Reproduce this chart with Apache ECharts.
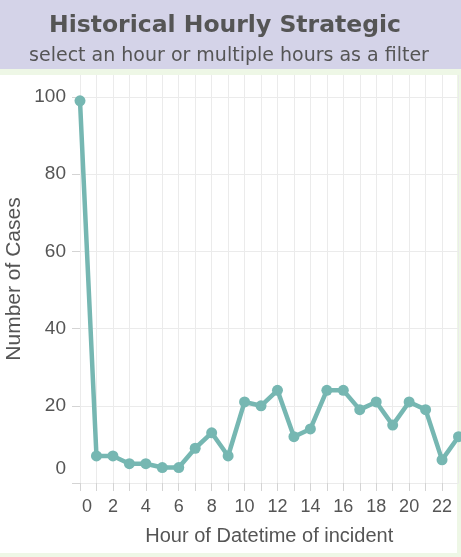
<!DOCTYPE html>
<html>
<head>
<meta charset="utf-8">
<script src="https://cdn.jsdelivr.net/npm/echarts@6/dist/echarts.min.js"></script>
<style>
html,body{margin:0;padding:0;background:#eef7e6;}
#chart{width:461px;height:557px;}
</style>
</head>
<body>
<div id="chart"></div>
<script>
const hours = [0,1,2,3,4,5,6,7,8,9,10,11,12,13,14,15,16,17,18,19,20,21,22,23];
const cases = [99,7,7,5,5,4,4,9,13,7,21,20,24,12,14,24,24,19,21,15,21,19,6,12];
const yTicks = [0,20,40,60,80,100];
const xTicks = [0,2,4,6,8,10,12,14,16,18,20,22];

const chart = echarts.init(document.getElementById('chart'), null, {renderer:'canvas'});
const gray = '#d4d4d4';
const txt = '#555555';
const option = {
  backgroundColor: '#eef7e6',
  animation: false,
  title: [
    {text: 'Historical Hourly Strategic', left: 220, top: 9, textAlign: 'center',
     textStyle: {fontFamily: 'DejaVu Sans', fontWeight: 'bold', fontSize: 23.5, color: txt}},
    {text: 'select an hour or multiple hours as a filter', left: 224, top: 42, textAlign: 'center',
     textStyle: {fontFamily: 'DejaVu Sans', fontWeight: 'normal', fontSize: 19, color: txt}}
  ],
  graphic: [
    {z: -10, elements: [
      {type: 'rect', shape: {x: 0, y: 0, width: 461, height: 69}, style: {fill: '#d4d3e8'}, silent: true},
      {type: 'rect', shape: {x: 0, y: 75, width: 457, height: 478}, style: {fill: '#ffffff'}, silent: true}
    ]},
    {z: 100, elements: [
      {type: 'rect', shape: {x: 457, y: 69, width: 4, height: 488}, style: {fill: '#eef7e6'}, silent: true},
      {type: 'rect', shape: {x: 0, y: 553, width: 461, height: 4}, style: {fill: '#eef7e6'}, silent: true},
      {type: 'line', shape: {x1: 456.5, y1: 75, x2: 456.5, y2: 553}, style: {stroke: '#dddddd', lineWidth: 1}, silent: true},
      {type: 'line', shape: {x1: 0, y1: 75.5, x2: 80, y2: 75.5}, style: {stroke: '#dddddd', lineWidth: 1}, silent: true},
      {type: 'line', shape: {x1: 0, y1: 483.5, x2: 457, y2: 483.5}, style: {stroke: gray, lineWidth: 1}, silent: true},
      {type: 'line', shape: {x1: 80.5, y1: 75, x2: 80.5, y2: 553}, style: {stroke: gray, lineWidth: 1}, silent: true}
    ]}
  ],
  grid: {left: 80, top: 75, right: 2.5, bottom: 74, containLabel: false, outerBoundsMode: 'none'},
  xAxis: {
    type: 'value', min: 0, max: 23, interval: 1,
    name: 'Hour of Datetime of incident', nameLocation: 'middle', nameGap: 43,
    nameMoveOverlap: false,
    nameTextStyle: {fontFamily: 'Liberation Sans', fontSize: 20, color: txt},
    axisLine: {show: false},
    axisTick: {show: true, length: 8, lineStyle: {color: gray}},
    splitLine: {show: true, lineStyle: {color: '#ebebeb', width: 1}},
    axisLabel: {
      fontFamily: 'Liberation Sans', fontSize: 18, color: txt, margin: 15,
      showMaxLabel: false,
      formatter: v => xTicks.indexOf(v) === -1 ? '' : (v === 0 ? '{f|0}' : String(v)),
      rich: {f: {fontFamily: 'Liberation Sans', fontSize: 18, color: txt, padding: [0,0,0,14]}}
    }
  },
  yAxis: {
    type: 'value', min: 0, max: 105.7, interval: 20,
    name: 'Number of Cases', nameLocation: 'middle', nameGap: 55,
    nameMoveOverlap: false,
    nameTextStyle: {fontFamily: 'Liberation Sans', fontSize: 21, color: txt},
    axisLine: {show: false},
    axisTick: {show: true, length: 8, lineStyle: {color: gray}, customValues: yTicks},
    splitLine: {show: true, lineStyle: {color: '#ebebeb', width: 1}},
    axisLabel: {
      fontFamily: 'Liberation Sans', fontSize: 19, color: txt, margin: 14,
      customValues: yTicks,
      formatter: v => v === 0 ? '{f|0}' : String(v),
      rich: {f: {fontFamily: 'Liberation Sans', fontSize: 19, color: txt, padding: [0,0,28,0]}}
    }
  },
  series: [{
    type: 'line',
    data: hours.map((h, i) => [h, cases[i]]),
    symbol: 'circle', symbolSize: 11,
    lineStyle: {color: '#76b7b2', width: 4.5},
    itemStyle: {color: '#76b7b2'},
    clip: false
  }]
};
chart.setOption(option);
</script>
</body>
</html>
